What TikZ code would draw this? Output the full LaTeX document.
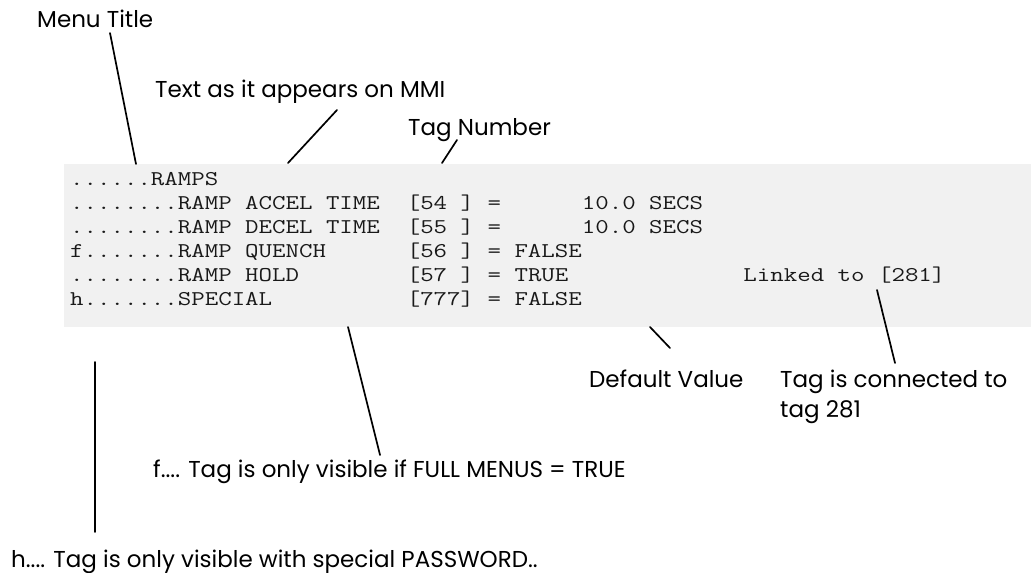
\documentclass[tikz,border=0pt]{standalone}
\usepackage{fontspec}
\setmainfont{Poppins}
\newfontfamily\monof[FakeStretch=1.245]{Latin Modern Mono}
\definecolor{panel}{RGB}{241,241,241}
\definecolor{codeink}{RGB}{25,25,25}
\begin{document}
\begin{tikzpicture}[x=1pt,y=-1pt,
  lbl/.style={anchor=base west,inner sep=0pt,font=\fontsize{23}{27}\selectfont},
  row/.style={anchor=base west,inner sep=0pt,text=codeink,font=\monof\fontsize{21}{24}\selectfont},
  lead/.style={line width=1.7pt,line cap=round},
  panelbox/.style={fill=panel,draw=none,inner sep=0pt,anchor=north west,minimum width=967pt,minimum height=163pt}]
\useasboundingbox (0,0) rectangle (1031,573);
\node[panelbox] (box) at (64,164) {};
% code rows
\node[row] (r0) at (70,185) {......RAMPS};
\node[row] (r1) at (70,209) {........RAMP~ACCEL~TIME~~[54~]~=~~~~~~10.0~SECS};
\node[row] (r2) at (70,233) {........RAMP~DECEL~TIME~~[55~]~=~~~~~~10.0~SECS};
\node[row] (r3) at (70,257) {f.......RAMP~QUENCH~~~~~~[56~]~=~FALSE};
\node[row] (r4) at (70,281) {........RAMP~HOLD~~~~~~~~[57~]~=~TRUE~~~~~~~~~~~~~Linked~to~[281]};
\node[row] (r5) at (70,305) {h.......SPECIAL~~~~~~~~~~[777]~=~FALSE};
% labels
\node[lbl] (menu) at (37,27) {Menu Title};
\node[lbl] (mmi) at (155,97) {Text as it appears on MMI};
\node[lbl] (tagno) at (408,135) {Tag Number};
\node[lbl] (defv) at (589,387) {Default Value};
\node[lbl] (conn) at (780,387) {Tag is connected to};
\node[lbl] (conn2) at (780,417) {tag 281};
\node[lbl] (full) at (153,477) {f.... Tag is only visible if FULL MENUS = TRUE};
\node[lbl] (pass) at (11,567) {h.... Tag is only visible with special PASSWORD..};
% end points on the panel
\coordinate (eMenu) at (136,164);
\coordinate (eMmi) at (288,163);
\coordinate (eTag) at (442,163);
\coordinate (eDef) at (650,327);
\coordinate (eLink) at (877,290);
\coordinate (eFull) at (348,327);
\coordinate (ePassTop) at (95,362);
% leaders
\draw[lead] ([shift={(73pt,-6pt)}]menu.base west) -- (eMenu);
\draw[lead] ([shift={(182pt,-13pt)}]mmi.base west) -- (eMmi);
\draw[lead] ([shift={(49pt,-5pt)}]tagno.base west) -- (eTag);
\draw[lead] ([shift={(81pt,39pt)}]defv.base west) -- (eDef);
\draw[lead] ([shift={(115pt,24pt)}]conn.base west) -- (eLink);
\draw[lead] ([shift={(227pt,22pt)}]full.base west) -- (eFull);
\draw[lead] (ePassTop) -- ([shift={(84pt,35pt)}]pass.base west);
\end{tikzpicture}
\end{document}
